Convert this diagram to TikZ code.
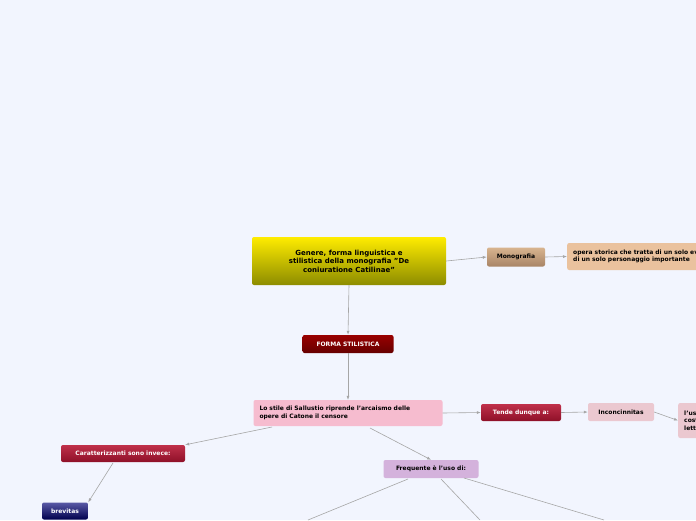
\documentclass[tikz,border=0pt]{standalone}
\usepackage{fontspec}
\setmainfont{DejaVu Sans}
\usetikzlibrary{arrows.meta}
\definecolor{bg}{HTML}{F2F5FE}
\definecolor{crim1}{HTML}{C0304A}
\definecolor{crim2}{HTML}{8E1028}
\definecolor{pinkb}{HTML}{F6BCCF}
\definecolor{lpink}{HTML}{EBC8D0}
\definecolor{tan1}{HTML}{D8B48F}
\definecolor{tan2}{HTML}{A88466}
\definecolor{peach}{HTML}{EAC29E}
\definecolor{purp}{HTML}{D4B2DC}
\tikzset{x=1pt,y=-1pt,
 box/.style={rounded corners=2pt,font=\bfseries\fontsize{6}{7.4}\selectfont,inner sep=0pt,align=left},
 conn/.style={draw=black!35,line width=0.6pt,-{Latex[length=4pt,width=3pt]}},
 line/.style={draw=black!35,line width=0.6pt}}
\begin{document}
\begin{tikzpicture}
\fill[bg] (0,0) rectangle (696,520);
\clip (0,0) rectangle (696,520);
\node[box,minimum width=194pt,minimum height=48pt,align=center,top color=yellow!85!orange,bottom color=yellow!55!black,font=\bfseries\fontsize{7}{8.6}\selectfont] (root) at (349,261) {Genere, forma linguistica e\\stilistica della monografia "De\\coniuratione Catilinae"};
\node[box,minimum width=58pt,minimum height=19pt,align=center,top color=tan1,bottom color=tan2] (mono) at (516,257) {Monografia};
\node[box,anchor=west,minimum width=160pt,minimum height=27pt,fill=peach,text width=150pt,inner xsep=6pt] (opera) at (567,256.5) {opera storica che tratta di un solo evento o\\di un solo personaggio importante};
\node[box,minimum width=91pt,minimum height=18pt,align=center,top color=red!60!black,bottom color=red!40!black,text=white] (forma) at (348,344) {FORMA STILISTICA};
\node[box,minimum width=189pt,minimum height=26pt,fill=pinkb,text width=177pt,inner xsep=6pt] (stile) at (348,413) {Lo stile di Sallustio riprende l'arcaismo delle\\opere di Catone il censore};
\node[box,minimum width=80pt,minimum height=17pt,align=center,top color=crim1,bottom color=crim2,text=white] (tende) at (521,412.5) {Tende dunque a:};
\node[box,minimum width=66pt,minimum height=18pt,align=center,fill=lpink] (inco) at (621,412) {Inconcinnitas};
\node[box,anchor=west,minimum width=80pt,minimum height=35pt,fill=lpink,text width=70pt,inner xsep=6pt] (uso) at (678,420.5) {l'uso di\\costrutti\\letterari};
\node[box,minimum width=124pt,minimum height=17pt,align=center,top color=crim1,bottom color=crim2,text=white] (car) at (123,453.5) {Caratterizzanti sono invece:};
\node[box,minimum width=46pt,minimum height=17pt,align=center,top color=blue!30!gray,bottom color=blue!30!black,text=white] (brev) at (65,511) {brevitas};
\node[box,minimum width=95pt,minimum height=18pt,align=center,fill=purp] (freq) at (431,469) {Frequente è l'uso di:};
\coordinate (f1) at (308,520);
\coordinate (f2) at (480,520);
\coordinate (f3) at (604,520);
\draw[conn] (root.east) -- (mono.west);
\draw[conn] (mono.east) -- (opera.west);
\draw[conn] (root.south) -- (forma.north);
\draw[conn] (forma.south) -- (stile.north);
\draw[conn] (stile.east) -- (tende.west);
\draw[conn] (tende.east) -- (inco.west);
\draw[conn] (inco.east) -- (uso.west);
\draw[conn] (272,427) -- (car.north east);
\draw[conn] (113,463) -- (brev.north east);
\draw[conn] (370,428) -- (freq.north);
\draw[line] (408,479) -- (f1);
\draw[line] (441,479) -- (f2);
\draw[line] (464,478) -- (f3);
\end{tikzpicture}
\end{document}
